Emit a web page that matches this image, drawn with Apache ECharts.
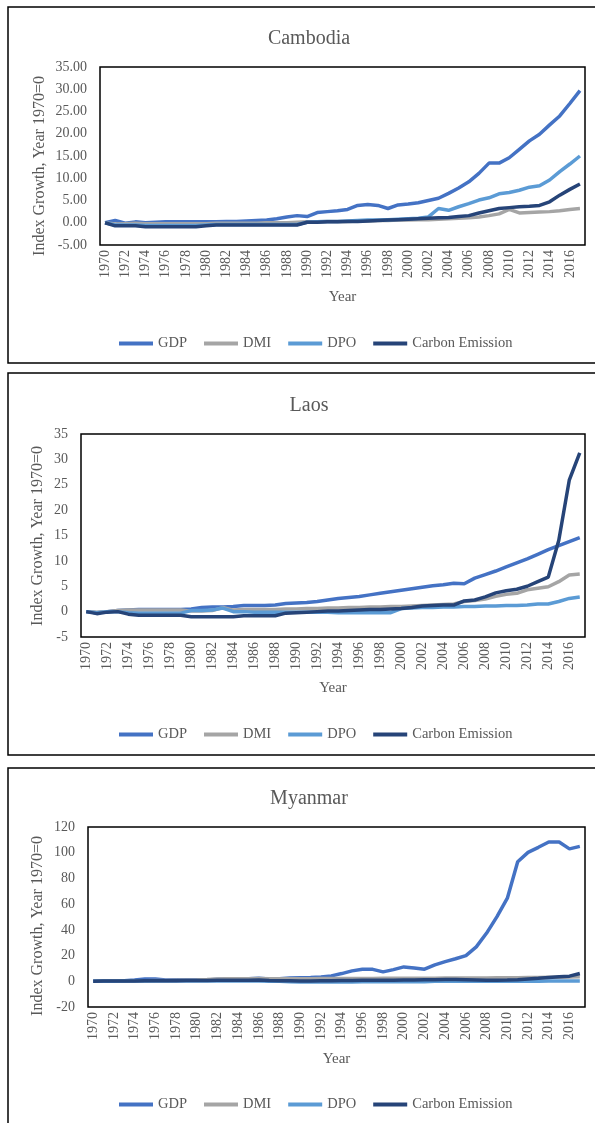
<!DOCTYPE html>
<html>
<head>
<meta charset="utf-8">
<script src="https://cdn.jsdelivr.net/npm/echarts@6/dist/echarts.min.js"></script>
<style>
  html, body { margin: 0; padding: 0; background: #fff; }
  #main { width: 595px; height: 1123px; }
</style>
</head>
<body>
<div id="main"></div>
<script>
// years on the x axis
var years = [];
for (var y = 1970; y <= 2017; y++) years.push(String(y));

var seriesNames = ['GDP', 'DMI', 'DPO', 'Carbon Emission'];

// Cambodia
var camGDP = [0, 0.5, -0.1, 0.2, 0.0, 0.1, 0.2, 0.2, 0.2, 0.2, 0.2, 0.2, 0.3, 0.3, 0.4, 0.5, 0.6, 0.9, 1.3, 1.6,
  1.4, 2.3, 2.5, 2.7, 3.0, 3.9, 4.1, 3.9, 3.2, 4.0, 4.2, 4.5, 5.0, 5.5, 6.6, 7.8, 9.2, 11.1, 13.4, 13.4,
  14.6, 16.5, 18.4, 19.9, 22.0, 24.0, 26.8, 29.7];
var camDMI = [0, -0.3, -0.2, -0.1, -0.2, -0.2, -0.2, -0.2, -0.2, -0.2, -0.2, -0.1, -0.1, -0.1, -0.1, -0.1, 0, 0, 0, 0.1,
  0.2, 0.2, 0.3, 0.3, 0.3, 0.4, 0.4, 0.5, 0.5, 0.6, 0.6, 0.7, 0.7, 0.8, 0.9, 1.0, 1.1, 1.3, 1.6, 2.0,
  3.0, 2.2, 2.3, 2.4, 2.5, 2.7, 3.0, 3.2];
var camDPO = [0, -0.5, -0.5, -0.5, -0.6, -0.6, -0.6, -0.6, -0.6, -0.6, -0.5, -0.4, -0.4, -0.4, -0.4, -0.4, -0.4, -0.4, -0.4, -0.4,
  0.1, 0.2, 0.3, 0.3, 0.4, 0.5, 0.6, 0.6, 0.7, 0.8, 0.9, 1.0, 1.3, 3.2, 2.8, 3.6, 4.3, 5.1, 5.6, 6.5,
  6.8, 7.3, 8.0, 8.3, 9.6, 11.5, 13.2, 15.0];
var camCarbon = [0, -0.7, -0.7, -0.7, -0.9, -0.9, -0.9, -0.9, -0.9, -0.9, -0.7, -0.5, -0.5, -0.5, -0.5, -0.5, -0.5, -0.5, -0.5, -0.5,
  0.1, 0.1, 0.2, 0.2, 0.3, 0.3, 0.4, 0.5, 0.6, 0.7, 0.8, 0.9, 1.0, 1.1, 1.2, 1.4, 1.6, 2.2, 2.7, 3.2,
  3.4, 3.6, 3.7, 3.9, 4.7, 6.2, 7.5, 8.7];

// Laos
var laoGDP = [0, -0.2, 0.0, 0.2, 0.3, 0.4, 0.4, 0.4, 0.4, 0.4, 0.5, 0.8, 0.9, 0.9, 1.0, 1.2, 1.2, 1.2, 1.3, 1.6,
  1.7, 1.8, 2.0, 2.3, 2.6, 2.8, 3.0, 3.3, 3.6, 3.9, 4.2, 4.5, 4.8, 5.1, 5.3, 5.6, 5.5, 6.6, 7.3, 8.0,
  8.8, 9.6, 10.4, 11.3, 12.2, 13.0, 13.8, 14.6];
var laoDMI = [0, -0.1, 0, 0.2, 0.3, 0.3, 0.3, 0.3, 0.3, 0.3, 0.1, 0.1, 0.2, 0.8, 0.3, 0.4, 0.4, 0.4, 0.4, 0.5,
  0.5, 0.6, 0.6, 0.7, 0.7, 0.8, 0.8, 0.9, 0.9, 1.0, 1.0, 1.1, 1.2, 1.3, 1.4, 1.5, 2.0, 2.2, 2.5, 3.0,
  3.4, 3.6, 4.3, 4.6, 4.9, 5.9, 7.2, 7.4];
var laoDPO = [0, -0.2, 0, 0, -0.2, -0.3, -0.3, -0.3, -0.3, -0.3, 0.2, 0.2, 0.3, 0.7, 0, 0, -0.1, -0.1, -0.1, -0.1,
  -0.1, -0.1, -0.1, -0.1, -0.2, -0.2, -0.2, -0.2, -0.2, -0.2, 0.6, 0.7, 0.8, 0.8, 0.9, 0.9, 1.0, 1.0, 1.1, 1.1,
  1.2, 1.2, 1.3, 1.5, 1.5, 2.0, 2.6, 2.9];
var laoCarbon = [0, -0.4, -0.1, 0, -0.5, -0.7, -0.7, -0.7, -0.7, -0.7, -1.0, -1.0, -1.0, -1.0, -1.0, -0.8, -0.8, -0.8, -0.8, -0.3,
  -0.2, -0.1, 0, 0.1, 0.1, 0.2, 0.3, 0.4, 0.4, 0.5, 0.6, 0.8, 1.1, 1.2, 1.3, 1.3, 2.1, 2.3, 2.9, 3.7,
  4.1, 4.4, 5.0, 5.9, 6.8, 14.0, 25.9, 31.3];

// Myanmar
var myaGDP = [0, 0.2, 0.3, 0.5, 1.0, 1.8, 1.8, 1.0, 1.2, 1.0, 1.0, 1.0, 1.5, 1.8, 2.0, 2.0, 2.3, 1.8, 2.0, 2.5,
  2.8, 2.9, 3.3, 4.2, 6.0, 8.1, 9.4, 9.3, 7.3, 9.1, 11.2, 10.4, 9.4, 12.8, 15.3, 17.5, 20.0, 26.8, 37.5, 50.3,
  64.6, 93.0, 100.3, 104.2, 108.3, 108.3, 103.0, 104.9];
var myaDMI = [0, 0.1, 0.2, 0.3, 0.4, 0.5, 0.6, 0.7, 0.8, 0.9, 1.0, 1.3, 1.8, 1.9, 2.0, 2.0, 2.1, 2.0, 2.0, 2.0,
  2.0, 2.0, 2.1, 2.1, 2.1, 2.2, 2.2, 2.2, 2.3, 2.3, 2.3, 2.3, 2.4, 2.4, 2.5, 2.5, 2.5, 2.6, 2.6, 2.7,
  2.8, 2.8, 2.9, 3.0, 3.1, 3.2, 3.3, 3.5];
var myaDPO = [0, 0.1, 0.1, 0.2, 0.2, 0.2, 0.2, 0.2, 0.2, 0.2, 0.2, 0.2, 0.2, 0.2, 0.2, 0.2, 0.2, 0.1, 0, -0.3,
  -0.5, -0.5, -0.5, -0.5, -0.5, -0.5, -0.4, -0.4, -0.4, -0.4, -0.4, -0.4, -0.3, 0, 0, 0, 0, 0, 0, 0,
  0, 0.1, 0.1, 0.1, 0.2, 0.2, 0.3, 0.3];
var myaCarbon = [0, 0.2, 0.3, 0.3, 0.3, 0.4, 0.4, 0.5, 0.5, 0.6, 0.6, 0.7, 0.8, 0.8, 0.9, 0.9, 1.0, 0.7, 0.5, 0.4,
  0.3, 0.3, 0.4, 0.5, 0.6, 0.7, 0.8, 0.8, 0.9, 0.9, 1.0, 1.0, 1.1, 1.2, 1.3, 1.3, 1.2, 1.0, 0.8, 0.9,
  1.0, 1.2, 1.8, 2.3, 3.0, 3.5, 4.0, 6.0];

var colors = ['#4472C4', '#A5A5A5', '#5B9BD5', '#264478'];
var textColor = '#595959';
var serif = 'Liberation Serif, Times New Roman, serif';

// one panel per country
var panels = [
  { name: 'Cambodia', data: [camGDP, camDMI, camDPO, camCarbon], min: -5, max: 35, interval: 5, digits: 2,
    box: [8, 7, 356], grid: { left: 100, top: 67, right: 10, height: 178 },
    titleTop: 24, yNameX: 40, yNameY: 166, yearGap: 45, legendTop: 331 },
  { name: 'Laos', data: [laoGDP, laoDMI, laoDPO, laoCarbon], min: -5, max: 35, interval: 5, digits: 0,
    box: [8, 373, 382], grid: { left: 81, top: 434, right: 10, height: 203 },
    titleTop: 391, yNameX: 38, yNameY: 536, yearGap: 44, legendTop: 722 },
  { name: 'Myanmar', data: [myaGDP, myaDMI, myaDPO, myaCarbon], min: -20, max: 120, interval: 20, digits: 0,
    box: [8, 768, 400], grid: { left: 88, top: 827, right: 10, height: 180 },
    titleTop: 784, yNameX: 38, yNameY: 926, yearGap: 45, legendTop: 1092 }
];

var option = {
  animation: false,
  backgroundColor: '#fff',
  title: [], legend: [], grid: [], xAxis: [], yAxis: [], series: [], graphic: []
};

panels.forEach(function (p, k) {
  option.graphic.push({
    type: 'rect', silent: true,
    shape: { x: p.box[0], y: p.box[1], width: 600, height: p.box[2] },
    style: { fill: 'none', stroke: '#000', lineWidth: 1.5 }
  });
  option.graphic.push({
    type: 'text', silent: true, x: p.yNameX, y: p.yNameY, rotation: Math.PI / 2,
    style: { text: 'Index Growth, Year 1970=0', fill: textColor, font: '16px ' + serif,
      textAlign: 'center', textVerticalAlign: 'middle' }
  });
  option.title.push({
    text: p.name, left: 304, top: p.titleTop, textAlign: 'center',
    textStyle: { color: textColor, fontFamily: serif, fontSize: 20, fontWeight: 'normal' }
  });
  option.legend.push({
    data: seriesNames, left: 114, top: p.legendTop, icon: 'rect',
    itemWidth: 34, itemHeight: 4, itemGap: 17,
    textStyle: { color: textColor, fontFamily: serif, fontSize: 14.5 }
  });
  option.grid.push({
    left: p.grid.left, top: p.grid.top, right: p.grid.right, height: p.grid.height,
    show: true, borderColor: '#000', borderWidth: 1.5, backgroundColor: 'transparent'
  });
  option.xAxis.push({
    type: 'category', gridIndex: k, data: years, boundaryGap: true,
    name: 'Year', nameLocation: 'middle', nameGap: p.yearGap,
    nameTextStyle: { color: textColor, fontFamily: serif, fontSize: 15 },
    axisLine: { show: false }, axisTick: { show: false },
    axisLabel: { interval: 1, rotate: 90, margin: 5, color: textColor, fontFamily: serif, fontSize: 14 }
  });
  option.yAxis.push({
    type: 'value', gridIndex: k, min: p.min, max: p.max, interval: p.interval,
    splitLine: { show: false }, axisLine: { show: false }, axisTick: { show: false },
    axisLabel: { margin: 13, color: textColor, fontFamily: serif, fontSize: 14,
      formatter: function (v) { return v.toFixed(p.digits); } }
  });
  p.data.forEach(function (vals, i) {
    option.series.push({
      name: seriesNames[i], type: 'line', xAxisIndex: k, yAxisIndex: k,
      data: vals, showSymbol: false, symbol: 'none',
      lineStyle: { width: 3.5, color: colors[i] }, itemStyle: { color: colors[i] }
    });
  });
});

var myChart = echarts.init(document.getElementById('main'));
myChart.setOption(option);
</script>
</body>
</html>
